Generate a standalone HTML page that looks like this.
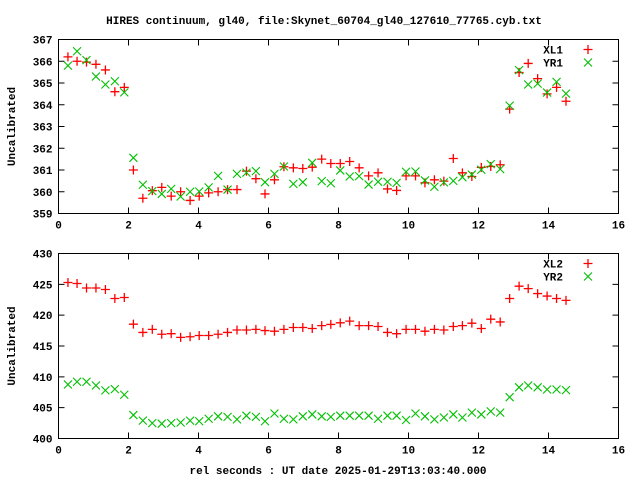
<!DOCTYPE html>
<html><head><meta charset="utf-8"><style>
html,body{margin:0;padding:0;background:#fff;}
svg text{font-family:"Liberation Mono","DejaVu Sans Mono",monospace;font-weight:bold;font-size:11px;fill:#000;}
</style></head><body>
<svg id="chart" width="640" height="480" xmlns="http://www.w3.org/2000/svg">
<text x="324" y="24" text-anchor="middle">HIRES continuum, gl40, file:Skynet_60704_gl40_127610_77765.cyb.txt</text>
<text x="338" y="474" text-anchor="middle">rel seconds : UT date 2025-01-29T13:03:40.000</text>
<g id="plots"></g>
</svg>
<script>
const times=[0.27,0.53,0.8,1.07,1.34,1.61,1.88,2.14,2.41,2.68,2.95,3.22,3.49,3.76,4.02,4.29,4.56,4.83,5.1,5.37,5.64,5.9,6.17,6.44,6.71,6.98,7.25,7.52,7.78,8.05,8.32,8.59,8.86,9.13,9.4,9.66,9.93,10.2,10.47,10.74,11.01,11.28,11.54,11.81,12.08,12.35,12.62,12.89,13.16,13.42,13.69,13.96,14.23,14.5];
const xl1=[366.2,366.0,365.96,365.86,365.6,364.6,364.8,361.0,359.7,360.05,360.2,359.8,360.0,359.6,359.8,359.95,360.0,360.1,360.1,360.95,360.6,359.9,360.55,361.15,361.1,361.07,361.13,361.5,361.3,361.3,361.39,361.1,360.73,360.87,360.13,360.06,360.73,360.73,360.41,360.55,360.49,361.53,360.87,360.7,361.12,361.16,361.24,363.8,365.48,365.9,365.2,364.5,364.8,364.16];
const yr1=[365.8,366.46,366.05,365.3,364.93,365.08,364.57,361.56,360.32,360.03,359.9,360.13,359.78,360.0,360.01,360.2,360.73,360.1,360.82,360.88,360.95,360.44,360.82,361.16,360.36,360.44,361.33,360.49,360.39,360.98,360.7,360.72,360.33,360.46,360.46,360.41,360.92,360.93,360.52,360.23,360.43,360.5,360.67,360.79,361.01,361.27,361.04,363.96,365.59,364.93,364.97,364.56,365.05,364.51];
const xl2=[425.3,425.14,424.4,424.4,424.16,422.7,422.86,418.54,417.2,417.7,416.9,417.0,416.4,416.5,416.7,416.7,416.9,417.2,417.6,417.6,417.7,417.5,417.4,417.7,418.0,418.0,417.84,418.3,418.5,418.76,419.03,418.3,418.3,418.16,417.2,417.0,417.7,417.7,417.4,417.7,417.6,418.16,418.3,418.7,417.84,419.35,418.9,422.7,424.7,424.3,423.5,423.1,422.7,422.4];
const yr2=[408.76,409.2,409.2,408.6,407.8,408.0,407.1,403.8,402.9,402.5,402.4,402.5,402.6,402.9,402.8,403.2,403.6,403.5,403.1,403.7,403.5,402.8,404.05,403.2,403.1,403.6,403.9,403.6,403.5,403.7,403.7,403.7,403.7,403.2,403.7,403.7,403.0,404.05,403.6,403.1,403.4,403.9,403.4,404.2,403.9,404.4,404.2,406.7,408.3,408.6,408.3,407.95,407.95,407.84];
const xTicks=[0,2,4,6,8,10,12,14,16];
const yTicks1=[359,360,361,362,363,364,365,366,367];
const yTicks2=[400,405,410,415,420,425,430];

const NS="http://www.w3.org/2000/svg";
const root=document.getElementById('plots');
function mk(tag,attrs,parent){const e=document.createElementNS(NS,tag);for(const k in attrs)e.setAttribute(k,attrs[k]);parent.appendChild(e);return e;}
function plusMark(g,x,y){mk('path',{d:`M${x-4.5},${y}H${x+4.5}M${x},${y-4.5}V${y+4.5}`,stroke:'#ff0000','stroke-width':1.3,fill:'none'},g);}
function crossMark(g,x,y){mk('path',{d:`M${x-4},${y-4}L${x+4},${y+4}M${x-4},${y+4}L${x+4},${y-4}`,stroke:'#00c000','stroke-width':1.1,fill:'none'},g);}

function panel(name,top,bottom,yT,s1,s2,n1,n2){
  const L=58.5,R=618.5,ymin=yT[0],ymax=yT[yT.length-1];
  const xs=v=>L+(v-0)/(16-0)*(R-L);
  const ys=v=>bottom-(v-ymin)/(ymax-ymin)*(bottom-top);
  const g=mk('g',{},root);
  
  
  const frame=mk('rect',{x:L,y:top,width:R-L,height:bottom-top,fill:'none',stroke:'#000','stroke-width':1},g);
  
  
  xTicks.forEach(t=>{
    const x=xs(t);
    mk('path',{d:`M${x},${bottom}V${bottom-6}M${x},${top}V${top+6}`,stroke:'#000'},g);
    const tx=mk('text',{x:x,y:bottom+15,'text-anchor':'middle'},g);
    tx.textContent=t;
    
    
  });
  yT.forEach(t=>{
    const y=ys(t);
    mk('path',{d:`M${L},${y}H${L+6}M${R},${y}H${R-6}`,stroke:'#000'},g);
    const tx=mk('text',{x:L-6,y:y+4,'text-anchor':'end'},g);
    tx.textContent=t;
    
    
  });
  const yl=mk('text',{x:15,y:(top+bottom)/2,'text-anchor':'middle',transform:`rotate(-90 15 ${(top+bottom)/2})`},g);
  yl.textContent='Uncalibrated';
  
  
  const g1=mk('g',{},g);
  
  
  s1.forEach((v,i)=>plusMark(g1,xs(times[i]),ys(v)));
  const g2=mk('g',{},g);
  
  
  s2.forEach((v,i)=>crossMark(g2,xs(times[i]),ys(v)));
  // legend
  const l1=mk('text',{x:563,y:top+14,'text-anchor':'end'},g);
  l1.textContent=n1;
  
  
  plusMark(g,588,top+10);
  const l2=mk('text',{x:563,y:top+27,'text-anchor':'end'},g);
  l2.textContent=n2;
  
  
  crossMark(g,588,top+23);
}
panel('top-panel',39.5,213.5,yTicks1,xl1,yr1,'XL1','YR1');
panel('bottom-panel',253.5,438.5,yTicks2,xl2,yr2,'XL2','YR2');
</script>
</body></html>
